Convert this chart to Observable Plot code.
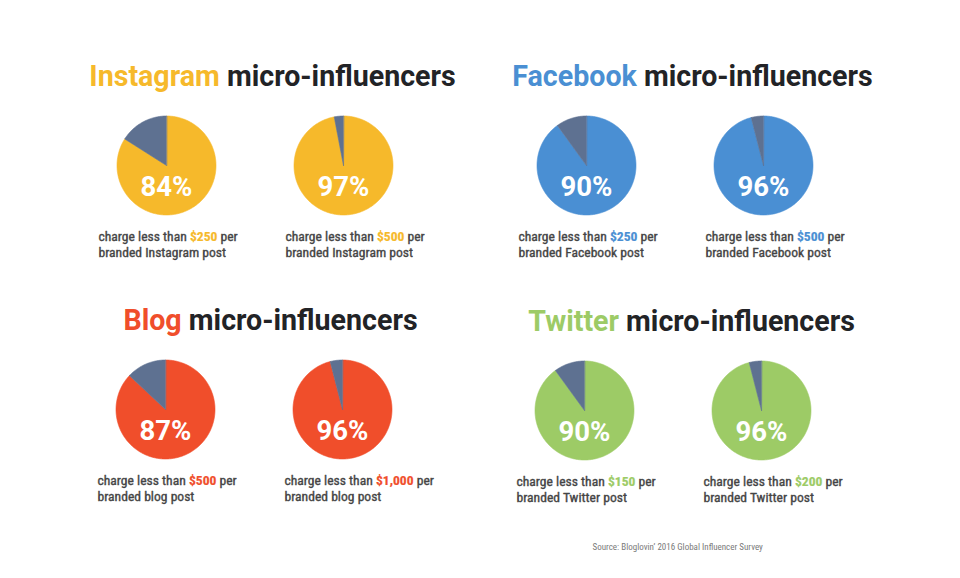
<!DOCTYPE html>
<html>
<head>
<meta charset="utf-8">
<script src="https://cdn.jsdelivr.net/npm/d3@7"></script>
<script src="https://cdn.jsdelivr.net/npm/@observablehq/plot@0.6"></script>
<style>
  html, body { margin: 0; padding: 0; background: #ffffff; }
  #chart svg { display: block; background: #ffffff; }
</style>
</head>
<body>
<div id="chart"></div>
<script>
// ---------------- data ----------------
const platforms = ["Instagram", "Facebook", "Blog", "Twitter"];
const platformColors = ["#F6B92B", "#4A8FD3", "#F04E2B", "#9DCB66"];
const shareFirst = [84, 90, 87, 90];
const shareSecond = [97, 96, 96, 96];
const limitFirst = ["$250", "$250", "$500", "$150"];
const limitSecond = ["$500", "$500", "$1,000", "$200"];
const postNames = ["Instagram", "Facebook", "blog", "Twitter"];
const titleSuffix = " micro-influencers";
const captionPrefix = "charge less than ";
const captionSuffix = " per";
const sourceText = "Source: Bloglovin’ 2016 Global Influencer Survey";
const otherColor = "#5E7191";

// ---------------- layout ----------------
const W = 960, H = 578;
const panelX = [166, 586, 165, 584];   // centre x of first pie in each panel
const panelY = [165, 165, 409, 410];   // centre y of pies
const titleX = [272, 692, 270, 691];
const pieGap = 177;
const R = 49.5;

const pies = [];
platforms.forEach((p, i) => {
  [[shareFirst[i], limitFirst[i], -68], [shareSecond[i], limitSecond[i], -58]].forEach(([share, limit, capDx], k) => {
    const cx = panelX[i] + k * pieGap, cy = panelY[i];
    pies.push({platform: p, color: platformColors[i], share, limit, post: postNames[i], cx, cy, capX: cx + capDx});
  });
});

// slice polygons (derived from share values)
const slicePts = [];
pies.forEach((pie, j) => {
  const a = pie.share / 100 * 2 * Math.PI;
  const slices = [[0, a, pie.color], [a, 2 * Math.PI, otherColor]];
  slices.forEach(([a0, a1, col], s) => {
    const id = j + "-" + s;
    slicePts.push({id, color: col, x: pie.cx, y: pie.cy});
    const n = Math.max(2, Math.ceil((a1 - a0) / (Math.PI / 180)));
    for (let t = 0; t <= n; t++) {
      const ang = a0 + (a1 - a0) * t / n;
      slicePts.push({id, color: col, x: pie.cx + R * Math.sin(ang), y: pie.cy - R * Math.cos(ang)});
    }
  });
});

const titles = platforms.map((p, i) => ({
  platform: p, color: platformColors[i], x: titleX[i], y: panelY[i] - 80
}));

const sansB = "Roboto, 'Open Sans', sans-serif";
const narrow = "'Liberation Sans Narrow', 'Roboto Condensed', Roboto, sans-serif";
const capColor = "#444444";

const chart = Plot.plot({
  width: W, height: H,
  margin: 0,
  x: {domain: [0, W], range: [0, W], axis: null},
  y: {domain: [0, H], range: [0, H], axis: null},
  color: {type: "identity"},
  style: {background: "#ffffff"},
  marks: [
    Plot.line(slicePts, {x: "x", y: "y", z: "id", fill: "color", stroke: "color", strokeWidth: 0.6, curve: "linear-closed"}),
    // mark group 0: percentages
    Plot.text(pies, {x: "cx", y: d => d.cy + 30, text: d => d.share + "%", fill: "#ffffff",
      fontSize: 27.5, fontWeight: 700, fontFamily: sansB, textAnchor: "middle", lineAnchor: "bottom"}),
    // mark group 1: titles
    Plot.text(titles, {x: "x", y: "y", text: d => d.platform + titleSuffix, fill: "#222326",
      fontSize: 28.6, fontWeight: 700, fontFamily: sansB, textAnchor: "middle", lineAnchor: "bottom"}),
    // mark group 2: caption line 1
    Plot.text(pies, {x: "capX", y: d => d.cy + 75, text: d => captionPrefix + d.limit + captionSuffix, fill: capColor,
      stroke: capColor, strokeWidth: 0.35, fontSize: 13.6, fontWeight: 400, fontFamily: narrow, textAnchor: "start", lineAnchor: "bottom"}),
    // mark group 3: caption line 2
    Plot.text(pies, {x: "capX", y: d => d.cy + 91, text: d => "branded " + d.post + " post", fill: capColor,
      stroke: capColor, strokeWidth: 0.35, fontSize: 13.6, fontWeight: 400, fontFamily: narrow, textAnchor: "start", lineAnchor: "bottom"}),
    // mark group 4: source
    Plot.text([sourceText], {x: () => 592, y: () => 549, text: d => d, fill: "#7a7a7a",
      fontSize: 9, fontFamily: narrow, textAnchor: "start", lineAnchor: "bottom"})
  ]
});

// colour the platform word in titles and the price in captions (tspans)
const NS = "http://www.w3.org/2000/svg";
function tspan(txt, attrs) {
  const t = document.createElementNS(NS, "tspan");
  t.textContent = txt;
  if (attrs) for (const k in attrs) t.setAttribute(k, attrs[k]);
  return t;
}
const textGroups = Array.from(chart.querySelectorAll('g[aria-label="text"]'));
textGroups[1].querySelectorAll("text").forEach((el, i) => {
  const d = titles[i];
  el.textContent = "";
  el.style.whiteSpace = "pre";
  el.appendChild(tspan(d.platform, {fill: d.color}));
  el.appendChild(tspan(titleSuffix));
});
textGroups[2].querySelectorAll("text").forEach((el, i) => {
  const d = pies[i];
  el.textContent = "";
  el.style.whiteSpace = "pre";
  el.appendChild(tspan(captionPrefix));
  el.appendChild(tspan(d.limit, {fill: d.color, stroke: d.color, "font-weight": 700, "stroke-width": 0.2}));
  el.appendChild(tspan(captionSuffix));
});

document.getElementById("chart").appendChild(chart);
</script>
</body>
</html>
